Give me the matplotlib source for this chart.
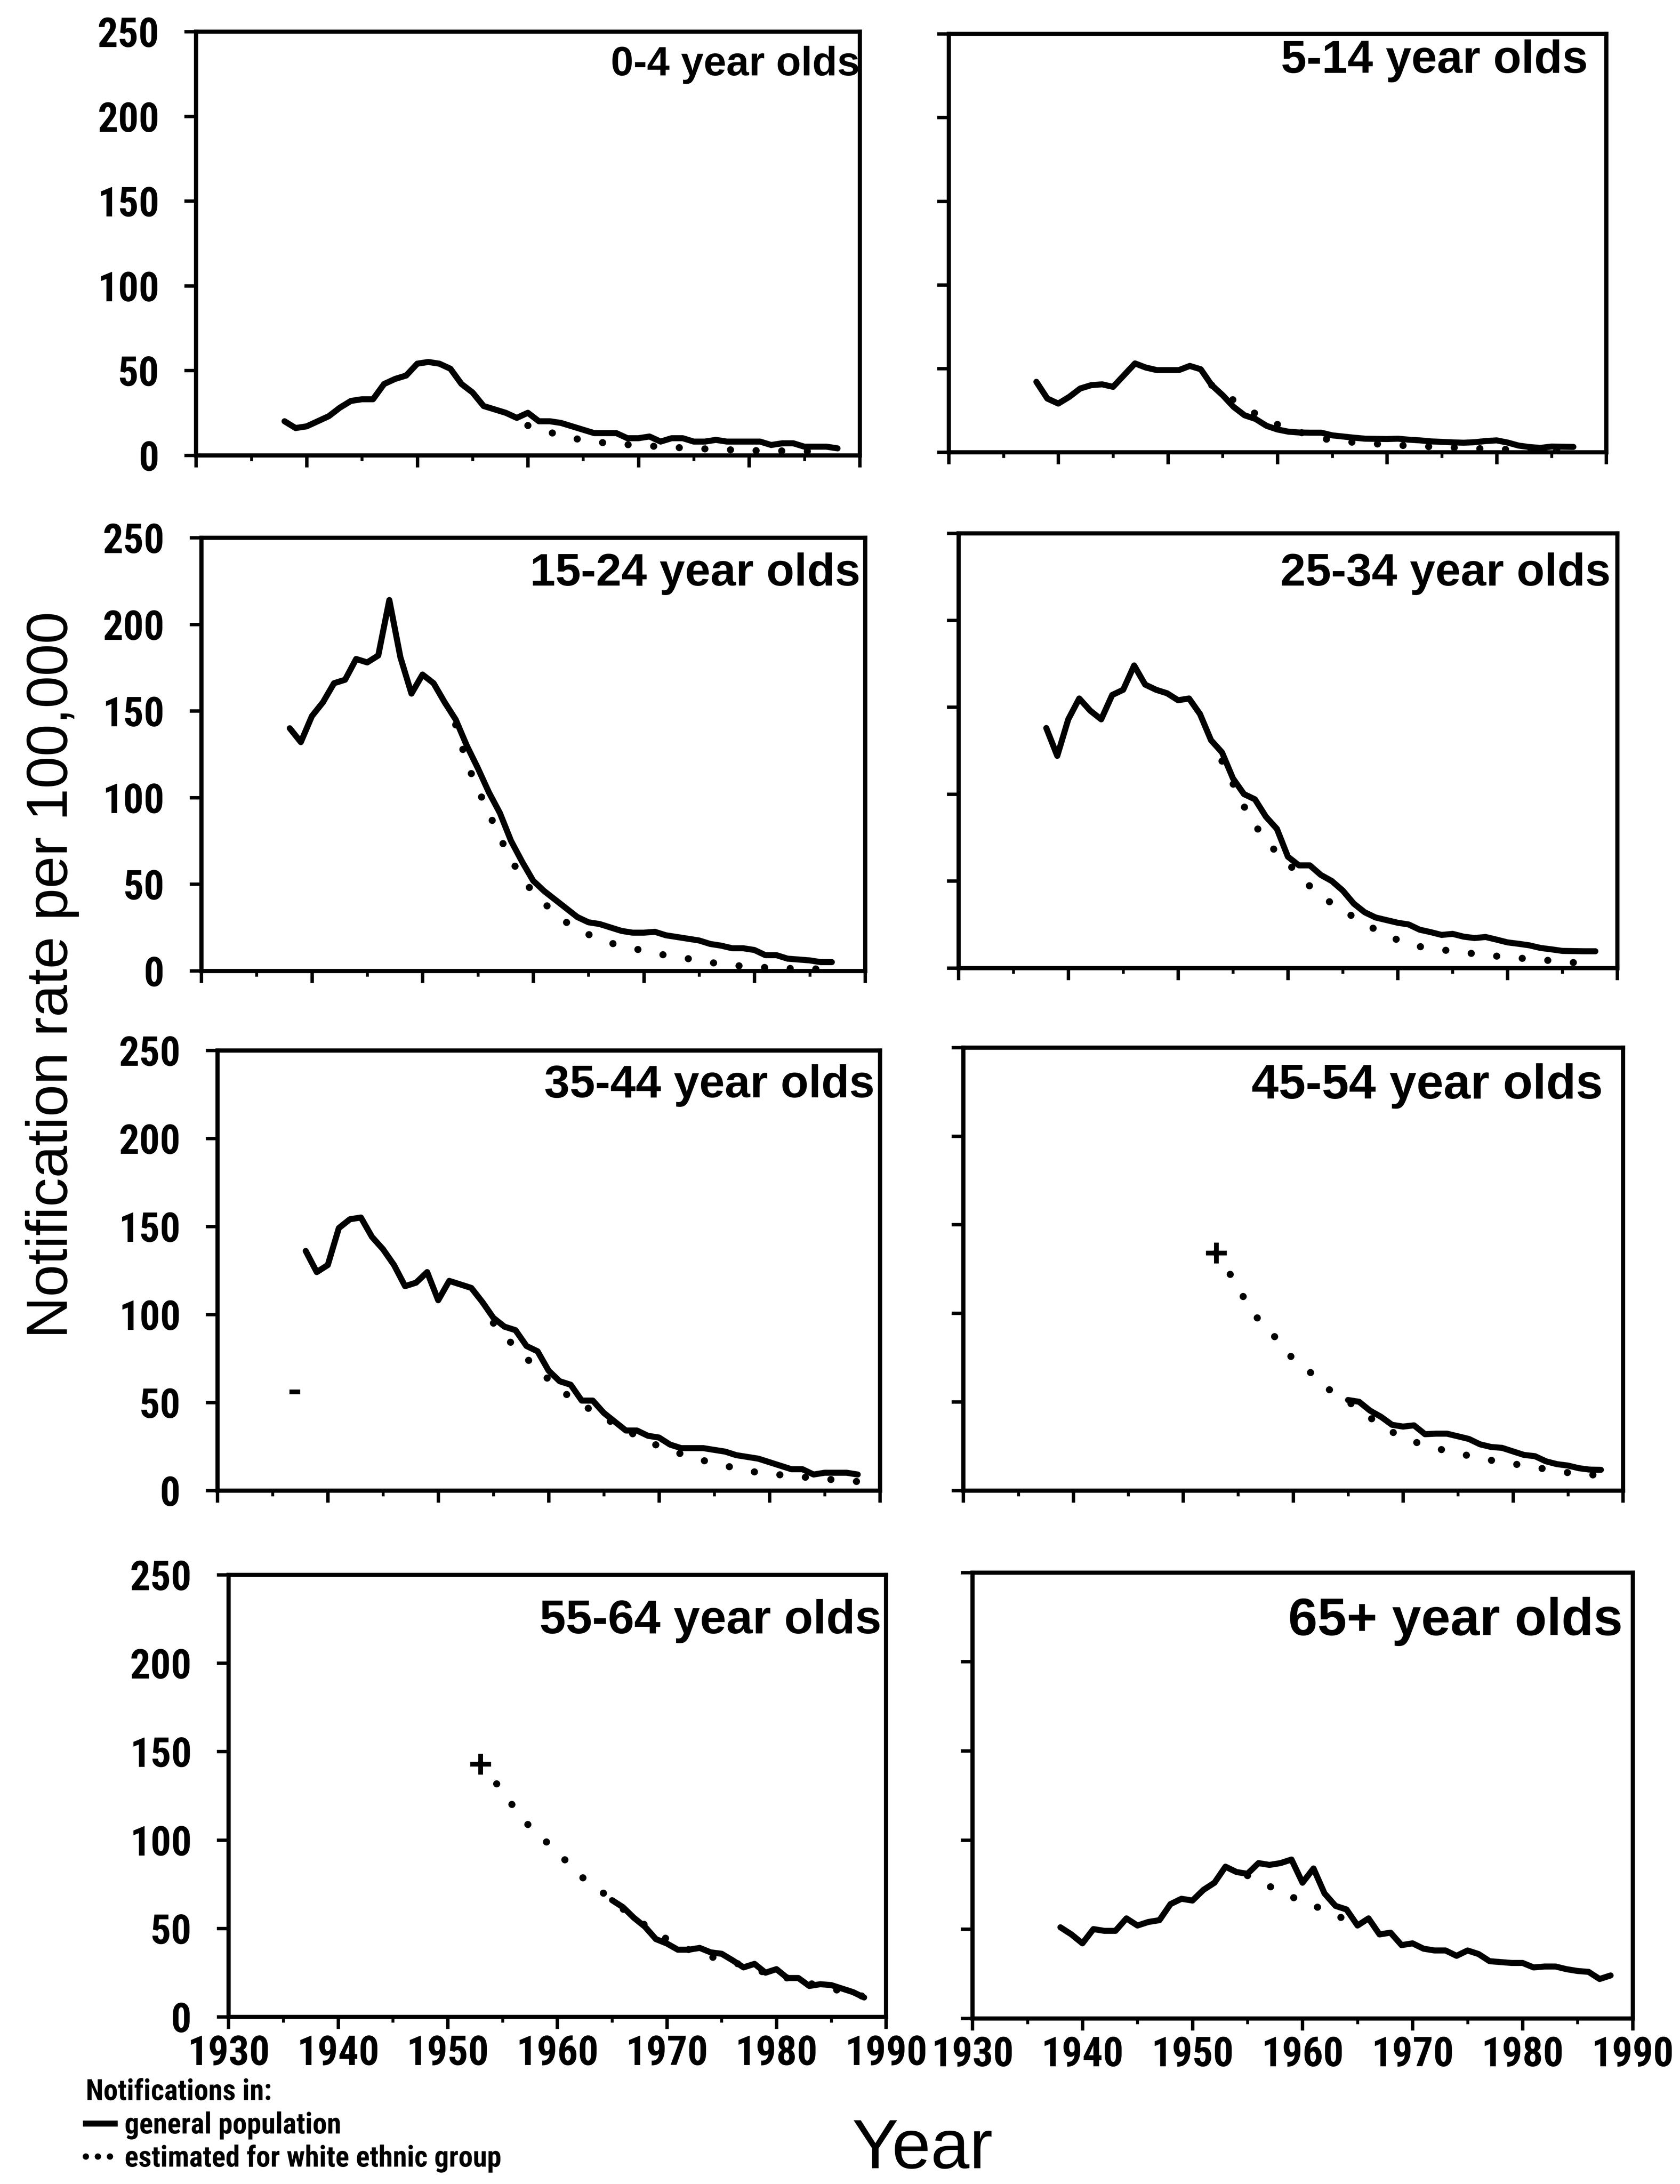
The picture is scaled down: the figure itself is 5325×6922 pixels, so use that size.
import numpy as np
import matplotlib
matplotlib.use("Agg")
import matplotlib.pyplot as plt
from matplotlib import font_manager as fm
from matplotlib.lines import Line2D
from matplotlib.ticker import MultipleLocator

# age groups, panel order: left to right, top to bottom
groups = ["0-4 year olds", "5-14 year olds", "15-24 year olds", "25-34 year olds",
          "35-44 year olds", "45-54 year olds", "55-64 year olds", "65+ year olds"]

# notification rate per 100,000, general population (one value per year)
gen_start = [1938, 1938, 1938, 1938, 1938, 1965, 1965, 1938]
gen_0_4 = [20, 16, 17, 20, 23, 28, 32, 33, 33, 42, 45, 47, 54, 55, 54, 51, 42, 37, 29, 27,
           25, 22, 25, 20, 20, 19, 17, 15, 13, 13, 13, 10, 10, 11, 8, 10, 10, 8, 8, 9,
           8, 8, 8, 8, 6, 7, 7, 5, 5, 5, 4]
gen_5_14 = [42, 32, 29, 33, 38, 40, 40.5, 39, 46, 53, 50.5, 49, 49, 49, 51.5, 49.5, 40, 34, 27, 22,
            19.8, 15.7, 13.5, 12.2, 11.7, 11.6, 11.6, 10, 9.3, 8.6, 8, 7.9, 7.8, 8, 7.4, 7, 6.4, 6.1,
            5.8, 5.6, 5.9, 6.6, 7, 5.7, 3.9, 3, 2.5, 3.3, 3.2, 3.1]
gen_15_24 = [140, 132, 147, 155, 166, 168, 180, 178, 182, 214, 181, 160, 171, 166, 155, 145, 130, 117,
             103, 91, 75, 63, 52, 46, 41, 36, 31, 28, 27, 25, 23, 22, 22, 22.5, 20.5, 19.5, 18.5,
             17.5, 15.5, 14.5, 13, 13, 12, 9, 9, 7, 6.5, 6, 5, 5]
gen_25_34 = [138, 122, 143, 155, 148, 143, 157, 160, 174, 163, 160, 158, 154, 155, 146, 131, 124, 109,
             100, 97, 87, 80, 64, 59, 59, 53.5, 50, 44.5, 37, 32, 29, 27.5, 26, 25, 22, 20.6, 19,
             19.6, 18, 17.2, 17.8, 16.3, 14.7, 13.9, 13, 11.5, 10.7, 9.8, 9.7, 9.6, 9.6]
gen_35_44 = [136, 124, 128, 149, 154, 155, 144, 137, 128, 116, 118, 124, 108, 119, 117, 115, 107, 98,
             93, 91, 82, 79, 68, 62, 60, 51, 51, 44, 39, 34, 34, 31, 30, 26, 24, 24, 24, 23, 22, 20,
             19, 18, 16, 14, 12, 12, 9, 10, 10, 10, 9]
gen_45_54 = [51, 50, 45, 41.5, 37, 36, 36.7, 31.7, 32, 32, 30.5, 29, 26, 24.5, 24, 22, 20, 19.3,
             16.4, 14.8, 14, 12.5, 11.7, 11.6]
gen_55_64 = [66, 62, 56, 51, 44, 41.5, 38, 38, 39, 36.5, 35.7, 32, 28, 30, 25, 27, 22, 22, 17.5,
             18.5, 18, 16, 14, 11]
gen_65 = [51, 47, 42, 50, 49, 49, 56, 52, 54, 55, 64, 67, 66, 72, 76, 85, 82, 81, 87, 86,
          87, 89, 76, 84, 70, 63, 61, 52, 56, 47, 48, 41, 42, 39, 38, 38, 35, 38, 36, 32,
          31.5, 31, 31, 28.5, 29, 29, 27.5, 26.5, 26, 22, 24]

# estimated rate for the white ethnic group
est_start = [1960, 1954, 1953, 1954, 1955, 1953, 1953, 1955]
est_0_4 = [17.5, 15, 13.5, 11.5, 10, 9, 8, 7.2, 6.7, 6.2, 5.8, 5.4, 5, 4.7, 4.3, 4, 3.7, 3.4,
           3.2, 3, 2.8, 2.6, 2.5, 2.5, 2.4, 2.3, 2.1]
est_5_14 = [40, 35, 31, 26, 23, 19.5, 16.5, 14, 12, 10, 8.2, 7.2, 6.4, 5.8, 5.3, 4.9, 4.5, 4.1,
            3.8, 3.5, 3.2, 3, 2.7, 2.4, 2.2, 1.9, 1.7, 1.6, 1.5, 1.4, 1.3, 1.2, 1.1, 1.0]
est_15_24 = [142, 120, 105, 91, 77, 64, 54, 45, 39, 33, 28, 24, 21, 18, 16, 14.5, 13, 11.5, 10,
             9, 8, 7, 6, 4.8, 4, 3.3, 2.6, 2.2, 1.9, 1.6, 1.4, 1.2, 1.1, 1.0]
est_25_34 = [119, 106, 93, 82, 74, 66, 60, 54, 47, 42, 37, 34, 29, 25.5, 22, 19.6, 16, 13.3, 12.3,
             11.4, 10.5, 9.6, 8.8, 8.2, 7.5, 6.8, 6.2, 5.7, 5.2, 4.7, 4.2, 3.6, 3.1, 2.6, 2.2]
est_35_44 = [95, 88, 81, 75, 69, 63, 57, 53, 49, 45, 41, 38, 34, 31, 28, 25, 23, 20.7, 18.7, 17,
             15.3, 14, 12.5, 11, 10.2, 9.5, 8.8, 8.2, 7.6, 7, 6.4, 6, 5.5, 5]
est_45_54 = [134, 125, 114, 104, 95, 89, 82, 74, 70, 64, 58, 54, 50, 46, 41, 37, 33, 30, 27.5, 25.5,
             24, 22, 21, 19.5, 18.3, 17, 16, 15, 14, 13, 12, 11, 10, 9.5, 9, 8]
est_55_64 = [143, 136, 127, 119, 111, 104, 99, 93, 87, 80, 76, 71, 66, 61, 56, 52, 48, 44, 41, 38,
             35.5, 34, 32.5, 31, 29, 27, 25, 23.5, 22, 20.5, 19, 17.5, 16, 14.5, 13, 11.5]
est_65 = [80, 77, 74, 71, 68, 66, 63, 61, 58, 55, 52]

# isolated mark in the 35-44 panel
stray_35_44_year, stray_35_44_value = 1937, 56

gen_series = [gen_0_4, gen_5_14, gen_15_24, gen_25_34, gen_35_44, gen_45_54, gen_55_64, gen_65]
est_series = [est_0_4, est_5_14, est_15_24, est_25_34, est_35_44, est_45_54, est_55_64, est_65]
plus_at_start = [False, False, False, False, False, True, True, False]

# layout (figure fractions) and label placement
positions = [
    [0.1167, 0.7916, 0.3950, 0.1939],
    [0.5647, 0.7930, 0.3914, 0.1915],
    [0.1198, 0.5555, 0.3951, 0.1983],
    [0.5705, 0.5568, 0.3922, 0.1990],
    [0.1294, 0.3176, 0.3943, 0.2015],
    [0.5734, 0.3176, 0.3926, 0.2028],
    [0.1360, 0.0765, 0.3914, 0.2025],
    [0.5788, 0.0759, 0.3930, 0.2041],
]
title_x = [1.0, 0.972, 0.993, 0.99, 0.992, 0.97, 0.993, 0.985]
title_y = [0.922, 0.935, 0.917, 0.907, 0.92, 0.913, 0.895, 0.89]
title_size = [15.5, 17.5, 17.4, 17.4, 17.4, 18.5, 18.0, 20.0]

SANS = ["Liberation Sans", "DejaVu Sans"]


def condensed_bold(size):
    # a condensed bold face for tick labels and the key, if one is installed
    for name in ["Liberation Sans Narrow", "Roboto Condensed", "Archivo Narrow",
                 "Asap Condensed"]:
        for f in fm.fontManager.ttflist:
            if f.name == name and f.style == "normal" and f.weight in (700, "bold"):
                return fm.FontProperties(fname=f.fname, size=size)
    return fm.FontProperties(family=SANS, weight="bold", size=size * 0.88)


tick_fp = condensed_bold(15.5)
key_fp = condensed_bold(11)

plt.rcParams["font.family"] = SANS
plt.rcParams["axes.linewidth"] = 1.6

fig = plt.figure(figsize=(5325 / 600, 6922 / 600), dpi=600)

DOTS = (0, (0.01, 3.6))

for i, name in enumerate(groups):
    ax = fig.add_axes(positions[i])
    g = gen_series[i]
    e = est_series[i]
    gx = np.arange(gen_start[i], gen_start[i] + len(g))
    ex = np.arange(est_start[i], est_start[i] + len(e))

    ax.plot(gx, g, color="black", linewidth=2.3, solid_joinstyle="round",
            solid_capstyle="round", zorder=3)
    ax.plot(ex, e, color="black", linewidth=2.7, linestyle=DOTS,
            dash_capstyle="round", zorder=2)
    if plus_at_start[i]:
        ax.plot(ex[:1], e[:1], marker="+", markersize=8, markeredgewidth=1.8,
                color="black", linestyle="none")
    if i == 4:
        ax.plot([stray_35_44_year], [stray_35_44_value], marker="_", markersize=4,
                markeredgewidth=1.8, color="black", linestyle="none")

    ax.set_xlim(1930, 1990)
    ax.set_ylim(0, 250)
    ax.xaxis.set_major_locator(MultipleLocator(10))
    ax.xaxis.set_minor_locator(MultipleLocator(5))
    ax.yaxis.set_major_locator(MultipleLocator(50))
    ax.tick_params(which="major", direction="out", length=4.5, width=1.3)
    ax.tick_params(which="minor", direction="out", length=2.2, width=1.1)
    ax.tick_params(axis="x", which="major", pad=2)
    ax.tick_params(axis="y", which="major", pad=9.5)
    ax.tick_params(axis="y", which="both", right=False)
    ax.tick_params(axis="x", which="both", top=False)
    if i % 2 == 1:
        ax.tick_params(labelleft=False)
    if i < 6:
        ax.tick_params(labelbottom=False)
    for lab in ax.get_xticklabels() + ax.get_yticklabels():
        lab.set_fontproperties(tick_fp)

    ax.text(title_x[i], title_y[i], name, transform=ax.transAxes, ha="right", va="center",
            fontsize=title_size[i], fontweight="bold")

fig.text(0.031, 0.5536, "Notification rate per 100,000", rotation=90,
         ha="center", va="center", fontsize=22)
fig.text(0.549, 0.0155, "Year", ha="center", va="center", fontsize=26.5)

key_handles = [Line2D([], [], color="black", linewidth=2.3),
               Line2D([], [], color="black", linewidth=2.4, linestyle=(0, (0.01, 1.9)),
                      dash_capstyle="round")]
fig.legend(key_handles, ["general population", "estimated for white ethnic group"],
           title="Notifications in:", loc="upper left", bbox_to_anchor=(0.051, 0.0485),
           frameon=False, alignment="left", handlelength=1.0, handletextpad=0.35,
           labelspacing=0.18, borderpad=0, borderaxespad=0,
           prop=key_fp, title_fontproperties=key_fp)

fig.savefig("out.png", dpi=600, facecolor="white")
plt.close(fig)
